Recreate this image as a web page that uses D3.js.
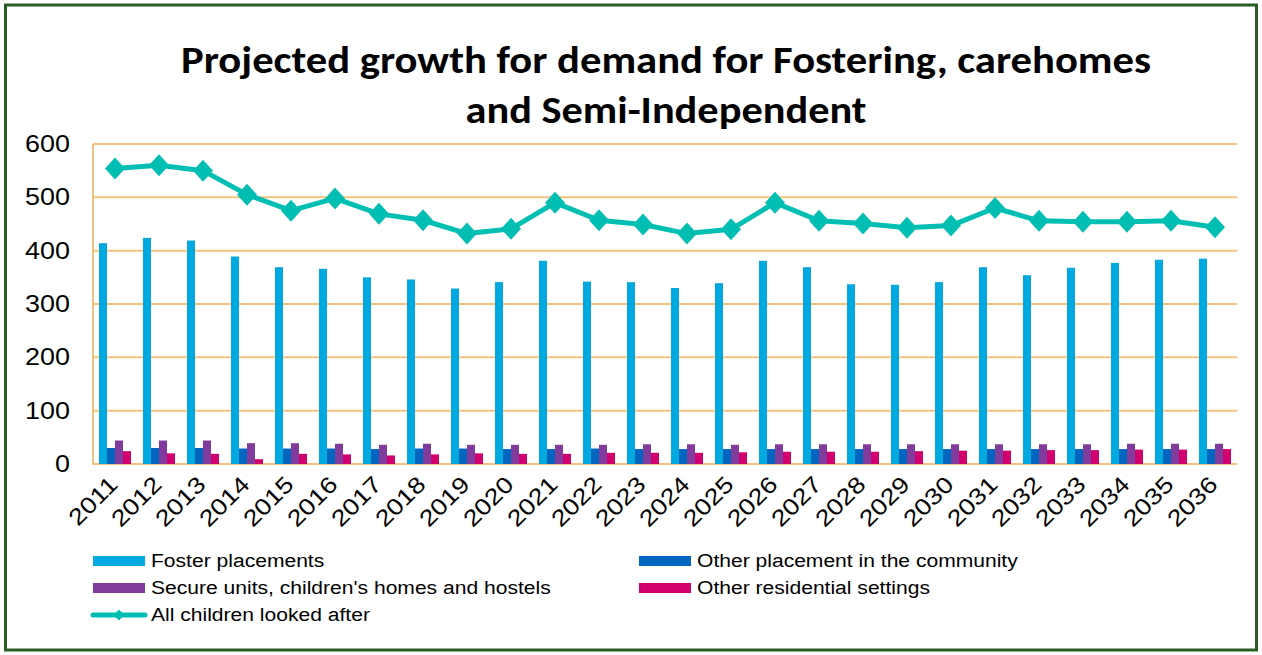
<!DOCTYPE html>
<html>
<head>
<meta charset="utf-8">
<script src="https://cdn.jsdelivr.net/npm/d3@7"></script>
<style>
  html, body { margin: 0; padding: 0; background: #fff; }
  svg { display: block; }
  text { fill: #000; }
</style>
</head>
<body>
<svg id="chart" width="1262" height="655"></svg>
<script>
// ---------- data ----------
const years = ["2011","2012","2013","2014","2015","2016","2017","2018","2019","2020","2021","2022","2023","2024","2025","2026","2027","2028","2029","2030","2031","2032","2033","2034","2035","2036"];
const fosterPlacements = [414,424,419,389,369,366,350,346,329,341,381,342,341,330,339,381,369,337,336,341,369,354,368,377,383,385];
const otherCommunity = [30,30,30,29,29,29,28,29,29,28,28,29,28,28,28,28,28,28,28,28,28,28,28,28,28,28];
const secureUnits = [44,44,44,39,39,38,36,38,36,36,36,36,37,37,36,37,37,37,37,37,37,37,37,38,38,38];
const otherResidential = [24,20,19,9,19,18,16,18,20,19,19,21,21,21,22,23,23,23,24,25,25,26,26,27,27,28];
const allChildren = [554,560,550,505,475,498,469,457,432,441,490,457,449,432,440,490,456,451,443,447,480,456,454,454,456,444];
const yTicks = [0,100,200,300,400,500,600];
const seriesNames = ["Foster placements","Other placement in the community","Secure units, children's homes and hostels","Other residential settings"];
const lineName = "All children looked after";
const titleLines = ["Projected growth for demand for Fostering, carehomes","and Semi-Independent"];

// ---------- styles ----------
const barColors = ["#00a9e0","#0066bf","#803b9c","#d2006f"];
const lineColor = "#00bfb2";
const gridColor = "#f4c27f";
const borderColor = "#2b5d27";
const STRETCH = 1.17;
const BODY_FONT = "'Liberation Sans', Arial, sans-serif";

const svg = d3.select("#chart");

// frame
svg.append("rect").attr("x",5.5).attr("y",5).attr("width",1251).attr("height",645)
  .attr("fill","none").attr("stroke",borderColor).attr("stroke-width",3);

// scales
const x = d3.scaleBand().domain(years).range([93,1237]).paddingInner(12/44).paddingOuter(6/44);
const xs = d3.scaleBand().domain(d3.range(4)).range([0, x.bandwidth()]);
const y = d3.scaleLinear().domain([0,600]).range([464,144]);

// gridlines
svg.append("g").selectAll("line").data(yTicks).join("line")
  .attr("x1",93).attr("x2",1237)
  .attr("y1",d=>y(d)).attr("y2",d=>y(d))
  .attr("stroke",gridColor).attr("stroke-width",2);
// left axis line
svg.append("line").attr("x1",93).attr("x2",93).attr("y1",y(600)).attr("y2",y(0)+1)
  .attr("stroke",gridColor).attr("stroke-width",2);

// y axis labels
const yAxis = d3.axisLeft(y).tickValues(yTicks).tickSize(0).tickPadding(23).tickFormat(d3.format("d"));
const gy = svg.append("g").attr("transform","translate(93,0)").call(yAxis);
gy.select(".domain").remove();
gy.selectAll("text").style("font-size","23px").style("font-family",BODY_FONT).attr("fill","#000").attr("class","st");

// x axis labels
const xAxis = d3.axisBottom(x).tickSize(0).tickPadding(0);
const gx = svg.append("g").attr("transform","translate(0,464)").call(xAxis);
gx.select(".domain").remove();
gx.selectAll("text")
  .style("font-size","23px").style("font-family",BODY_FONT).attr("fill","#000")
  .attr("text-anchor","end").attr("dy",0).attr("y",0)
  .attr("transform","translate(4,22) rotate(-45)")
  .attr("class","st");

// bars
const seriesData = [fosterPlacements, otherCommunity, secureUnits, otherResidential];
seriesData.forEach((vals,si)=>{
  svg.append("g").selectAll("rect").data(vals).join("rect")
    .attr("x",(d,i)=>x(years[i])+xs(si))
    .attr("width",xs.bandwidth())
    .attr("y",d=>y(d))
    .attr("height",d=>y(0)-y(d))
    .attr("fill",barColors[si]);
});

// line
const cx = (d,i)=>x(years[i])+x.bandwidth()/2;
const line = d3.line().x(cx).y(d=>y(d));
svg.append("path").datum(allChildren).attr("d",line)
  .attr("fill","none").attr("stroke",lineColor).attr("stroke-width",5).attr("stroke-linejoin","round");
const diamond = (w,h)=>`M0,${-h/2}L${w/2},0L0,${h/2}L${-w/2},0Z`;
svg.append("g").selectAll("path").data(allChildren).join("path")
  .attr("d",diamond(20,22))
  .attr("transform",(d,i)=>`translate(${cx(d,i)},${y(d)})`)
  .attr("fill",lineColor);

// legend
const legendItems = [
  {name:seriesNames[0], color:barColors[0], x:93, y:561},
  {name:seriesNames[1], color:barColors[1], x:639, y:561},
  {name:seriesNames[2], color:barColors[2], x:93, y:588},
  {name:seriesNames[3], color:barColors[3], x:639, y:588}
];
const lg = svg.append("g");
legendItems.forEach(it=>{
  lg.append("rect").attr("x",it.x).attr("y",it.y-5).attr("width",52).attr("height",10).attr("fill",it.color);
  lg.append("text").attr("x",it.x+58).attr("y",it.y).attr("dy","0.35em")
    .style("font-size","18px").style("font-family",BODY_FONT).attr("class","st").text(it.name);
});
lg.append("line").attr("x1",93).attr("x2",145).attr("y1",615).attr("y2",615)
  .attr("stroke",lineColor).attr("stroke-width",5).attr("stroke-linecap","round");
lg.append("path").attr("d",diamond(11,11)).attr("transform","translate(119,615)").attr("fill",lineColor);
lg.append("text").attr("x",151).attr("y",615).attr("dy","0.35em")
  .style("font-size","18px").style("font-family",BODY_FONT).attr("class","st").text(lineName);

// title
const title = svg.append("g");
const titleSpecs = [{y:73, w:970},{y:123, w:401}];
titleLines.forEach((t,i)=>{
  title.append("text").attr("x",666).attr("y",titleSpecs[i].y)
    .attr("text-anchor","middle")
    .style("font-family","Carlito, Lato, 'Open Sans', sans-serif").style("font-weight","700").style("font-size","38px")
    .attr("textLength",titleSpecs[i].w).attr("lengthAdjust","spacingAndGlyphs")
    .text(t);
});

// horizontal stretch of text to match reference proportions
svg.selectAll("text.st").each(function(){
  const len = this.getComputedTextLength();
  d3.select(this).attr("textLength", len*STRETCH).attr("lengthAdjust","spacingAndGlyphs");
});
</script>
</body>
</html>
